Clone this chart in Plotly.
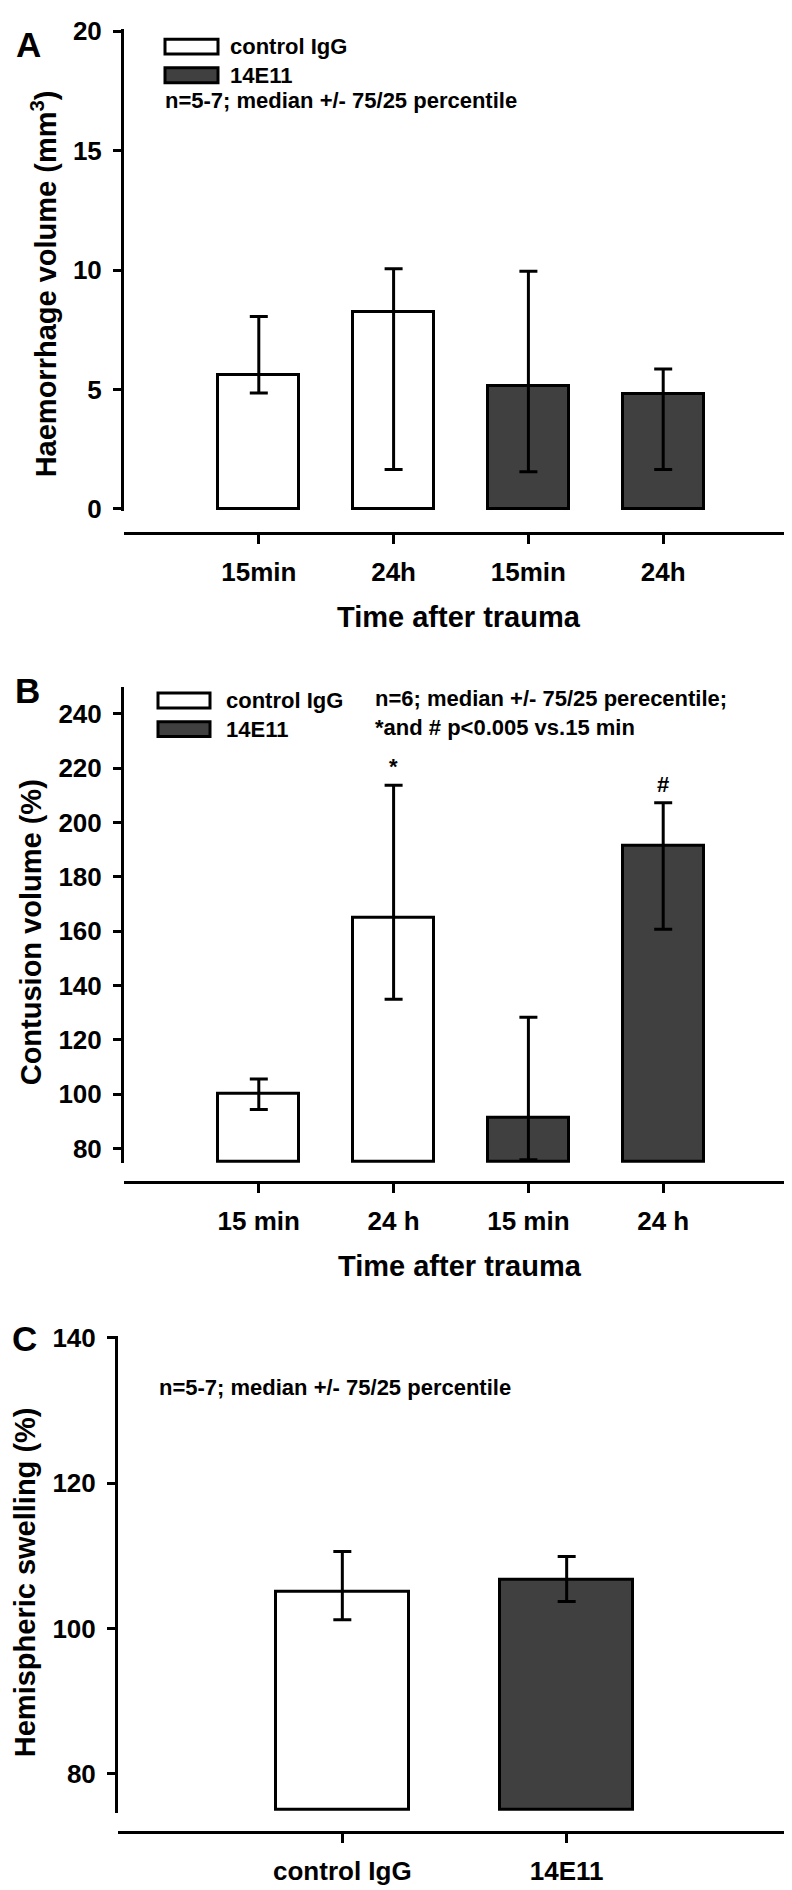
import plotly.graph_objects as go

W, H = 792, 1890
FONT = "Liberation Sans, Arial, Helvetica, sans-serif"

# ---------------- data ----------------
# Panel A: haemorrhage volume (mm3), median with 25/75 percentiles
a_categories = ["15min", "24h", "15min", "24h"]
a_groups = ["control IgG", "control IgG", "14E11", "14E11"]
a_median = [5.6, 8.25, 5.15, 4.8]
a_p75 = [8.05, 10.05, 9.95, 5.85]
a_p25 = [4.85, 1.65, 1.55, 1.65]

# Panel B: contusion volume (%)
b_categories = ["15 min", "24 h", "15 min", "24 h"]
b_groups = ["control IgG", "control IgG", "14E11", "14E11"]
b_median = [100.2, 165.1, 91.4, 191.5]
b_p75 = [105.6, 213.7, 128.3, 207.3]
b_p25 = [94.3, 134.9, 75.8, 160.7]
b_marks = ["", "*", "", "#"]

# Panel C: hemispheric swelling (%)
c_categories = ["control IgG", "14E11"]
c_groups = ["control IgG", "14E11"]
c_median = [105.1, 106.7]
c_p75 = [110.6, 109.9]
c_p25 = [101.2, 103.7]

group_colors = {"control IgG": "#ffffff", "14E11": "#404040"}
legend_groups = ["control IgG", "14E11"]


def px_x(x):
    return x / W


def px_y(y):
    return 1 - y / H


fig = go.Figure()


def add_panel(idx, cats, groups, med, p75, p25, base, width):
    xs = list(range(len(cats)))
    xa = "x" if idx == 1 else f"x{idx}"
    ya = "y" if idx == 1 else f"y{idx}"
    fig.add_trace(go.Bar(
        x=xs, y=[m - base for m in med], base=base, width=width,
        marker=dict(color=[group_colors[g] for g in groups],
                    line=dict(color="black", width=3)),
        xaxis=xa, yaxis=ya, showlegend=False, hoverinfo="skip",
    ))
    fig.add_trace(go.Scatter(
        x=xs, y=med, mode="markers",
        marker=dict(size=1, color="rgba(0,0,0,0)"),
        error_y=dict(type="data", symmetric=False,
                     array=[h - m for h, m in zip(p75, med)],
                     arrayminus=[m - l for m, l in zip(med, p25)],
                     color="black", thickness=3, width=9),
        xaxis=xa, yaxis=ya, showlegend=False, hoverinfo="skip",
    ))


add_panel(1, a_categories, a_groups, a_median, a_p75, a_p25, 0, 0.6)
add_panel(2, b_categories, b_groups, b_median, b_p75, b_p25, 75, 0.6)
add_panel(3, c_categories, c_groups, c_median, c_p75, c_p25, 75, 0.59)

tickfont = dict(family=FONT, size=26, color="black", weight="bold")


def xaxis_cfg(cats, dom, pos, rng):
    return dict(domain=[px_x(dom[0]), px_x(dom[1])], anchor="free",
                position=px_y(pos), range=rng,
                tickvals=list(range(len(cats))), ticktext=cats,
                showline=True, linewidth=3, linecolor="black",
                ticks="outside", ticklen=9, tickwidth=3, tickcolor="black",
                showgrid=False, zeroline=False, tickfont=tickfont,
                ticklabelstandoff=6, fixedrange=True)


def yaxis_cfg(anchor, dom, rng, dtick):
    return dict(domain=[px_y(dom[1]), px_y(dom[0])], anchor=anchor, range=rng,
                dtick=dtick, tick0=0,
                showline=True, linewidth=3, linecolor="black",
                ticks="outside", ticklen=8, tickwidth=3, tickcolor="black",
                showgrid=False, zeroline=False, tickfont=tickfont,
                ticklabelstandoff=6, fixedrange=True)


fig.update_layout(
    width=W, height=H,
    margin=dict(l=0, r=0, t=0, b=0),
    paper_bgcolor="white", plot_bgcolor="white",
    font=dict(family=FONT, color="black"),
    bargap=0,
    xaxis=xaxis_cfg(a_categories, (116, 790), 519, [-1, 4]),
    yaxis=yaxis_cfg("x", (8, 497), [-0.1, 20.1], 5),
    xaxis2=xaxis_cfg(b_categories, (116, 790), 1177, [-1, 4]),
    yaxis2=yaxis_cfg("x2", (675, 1158), [74.6, 250], 20),
    xaxis3=xaxis_cfg(c_categories, (110, 783), 1836, [-1, 2]),
    yaxis3=yaxis_cfg("x3", (1333, 1817), [74.6, 140.3], 20),
)

ann = []
shapes = []


def text(x, y, s, size, xanchor="left", angle=0):
    ann.append(dict(x=px_x(x), y=px_y(y), xref="paper", yref="paper",
                    text=s, showarrow=False, xanchor=xanchor, yanchor="middle",
                    textangle=angle,
                    font=dict(family=FONT, size=size, color="black", weight="bold")))


# panel letters
text(20, 24, "A", 35, "center")
text(19, 679, "B", 35, "center")
text(16, 1336, "C", 35, "center")

# axis titles
text(36, 267, "Haemorrhage volume (mm<sup>3</sup>)", 29, "center", -90)
text(451, 604, "Time after trauma", 29, "center")
text(23, 924, "Contusion volume (%)", 29, "center", -90)
text(452, 1262, "Time after trauma", 29, "center")
text(17, 1583, "Hemispheric swelling (%)", 29, "center", -90)


# legends (boxes drawn as shapes, labels as text)
def legend(x0, x1, rows, text_x):
    for g, yc in zip(legend_groups, rows):
        shapes.append(dict(type="rect", xref="paper", yref="paper",
                           x0=px_x(x0), x1=px_x(x1),
                           y0=px_y(yc + 7.5), y1=px_y(yc - 7.5),
                           fillcolor=group_colors[g],
                           line=dict(color="black", width=3)))
        text(text_x, yc, g, 22)


legend(157, 210, [26, 55], 220)
text(155, 81, "n=5-7; median +/- 75/25 percentile", 22)

legend(150, 202, [689, 718], 216)
text(365, 687, "n=6; median +/- 75/25 perecentile;", 22)
text(365, 716, "*and # p<0.005 vs.15 min", 22)

text(149, 1386, "n=5-7; median +/- 75/25 percentile", 22)

# significance marks above the upper percentile whiskers (panel B)
for i, (mk, top) in enumerate(zip(b_marks, b_p75)):
    if mk:
        ann.append(dict(x=i, y=top, xref="x2", yref="y2", text=mk,
                        showarrow=False, xanchor="center", yanchor="bottom",
                        yshift=4,
                        font=dict(family=FONT, size=22, color="black", weight="bold")))

fig.update_layout(annotations=ann, shapes=shapes)
fig.write_html("out.html")
